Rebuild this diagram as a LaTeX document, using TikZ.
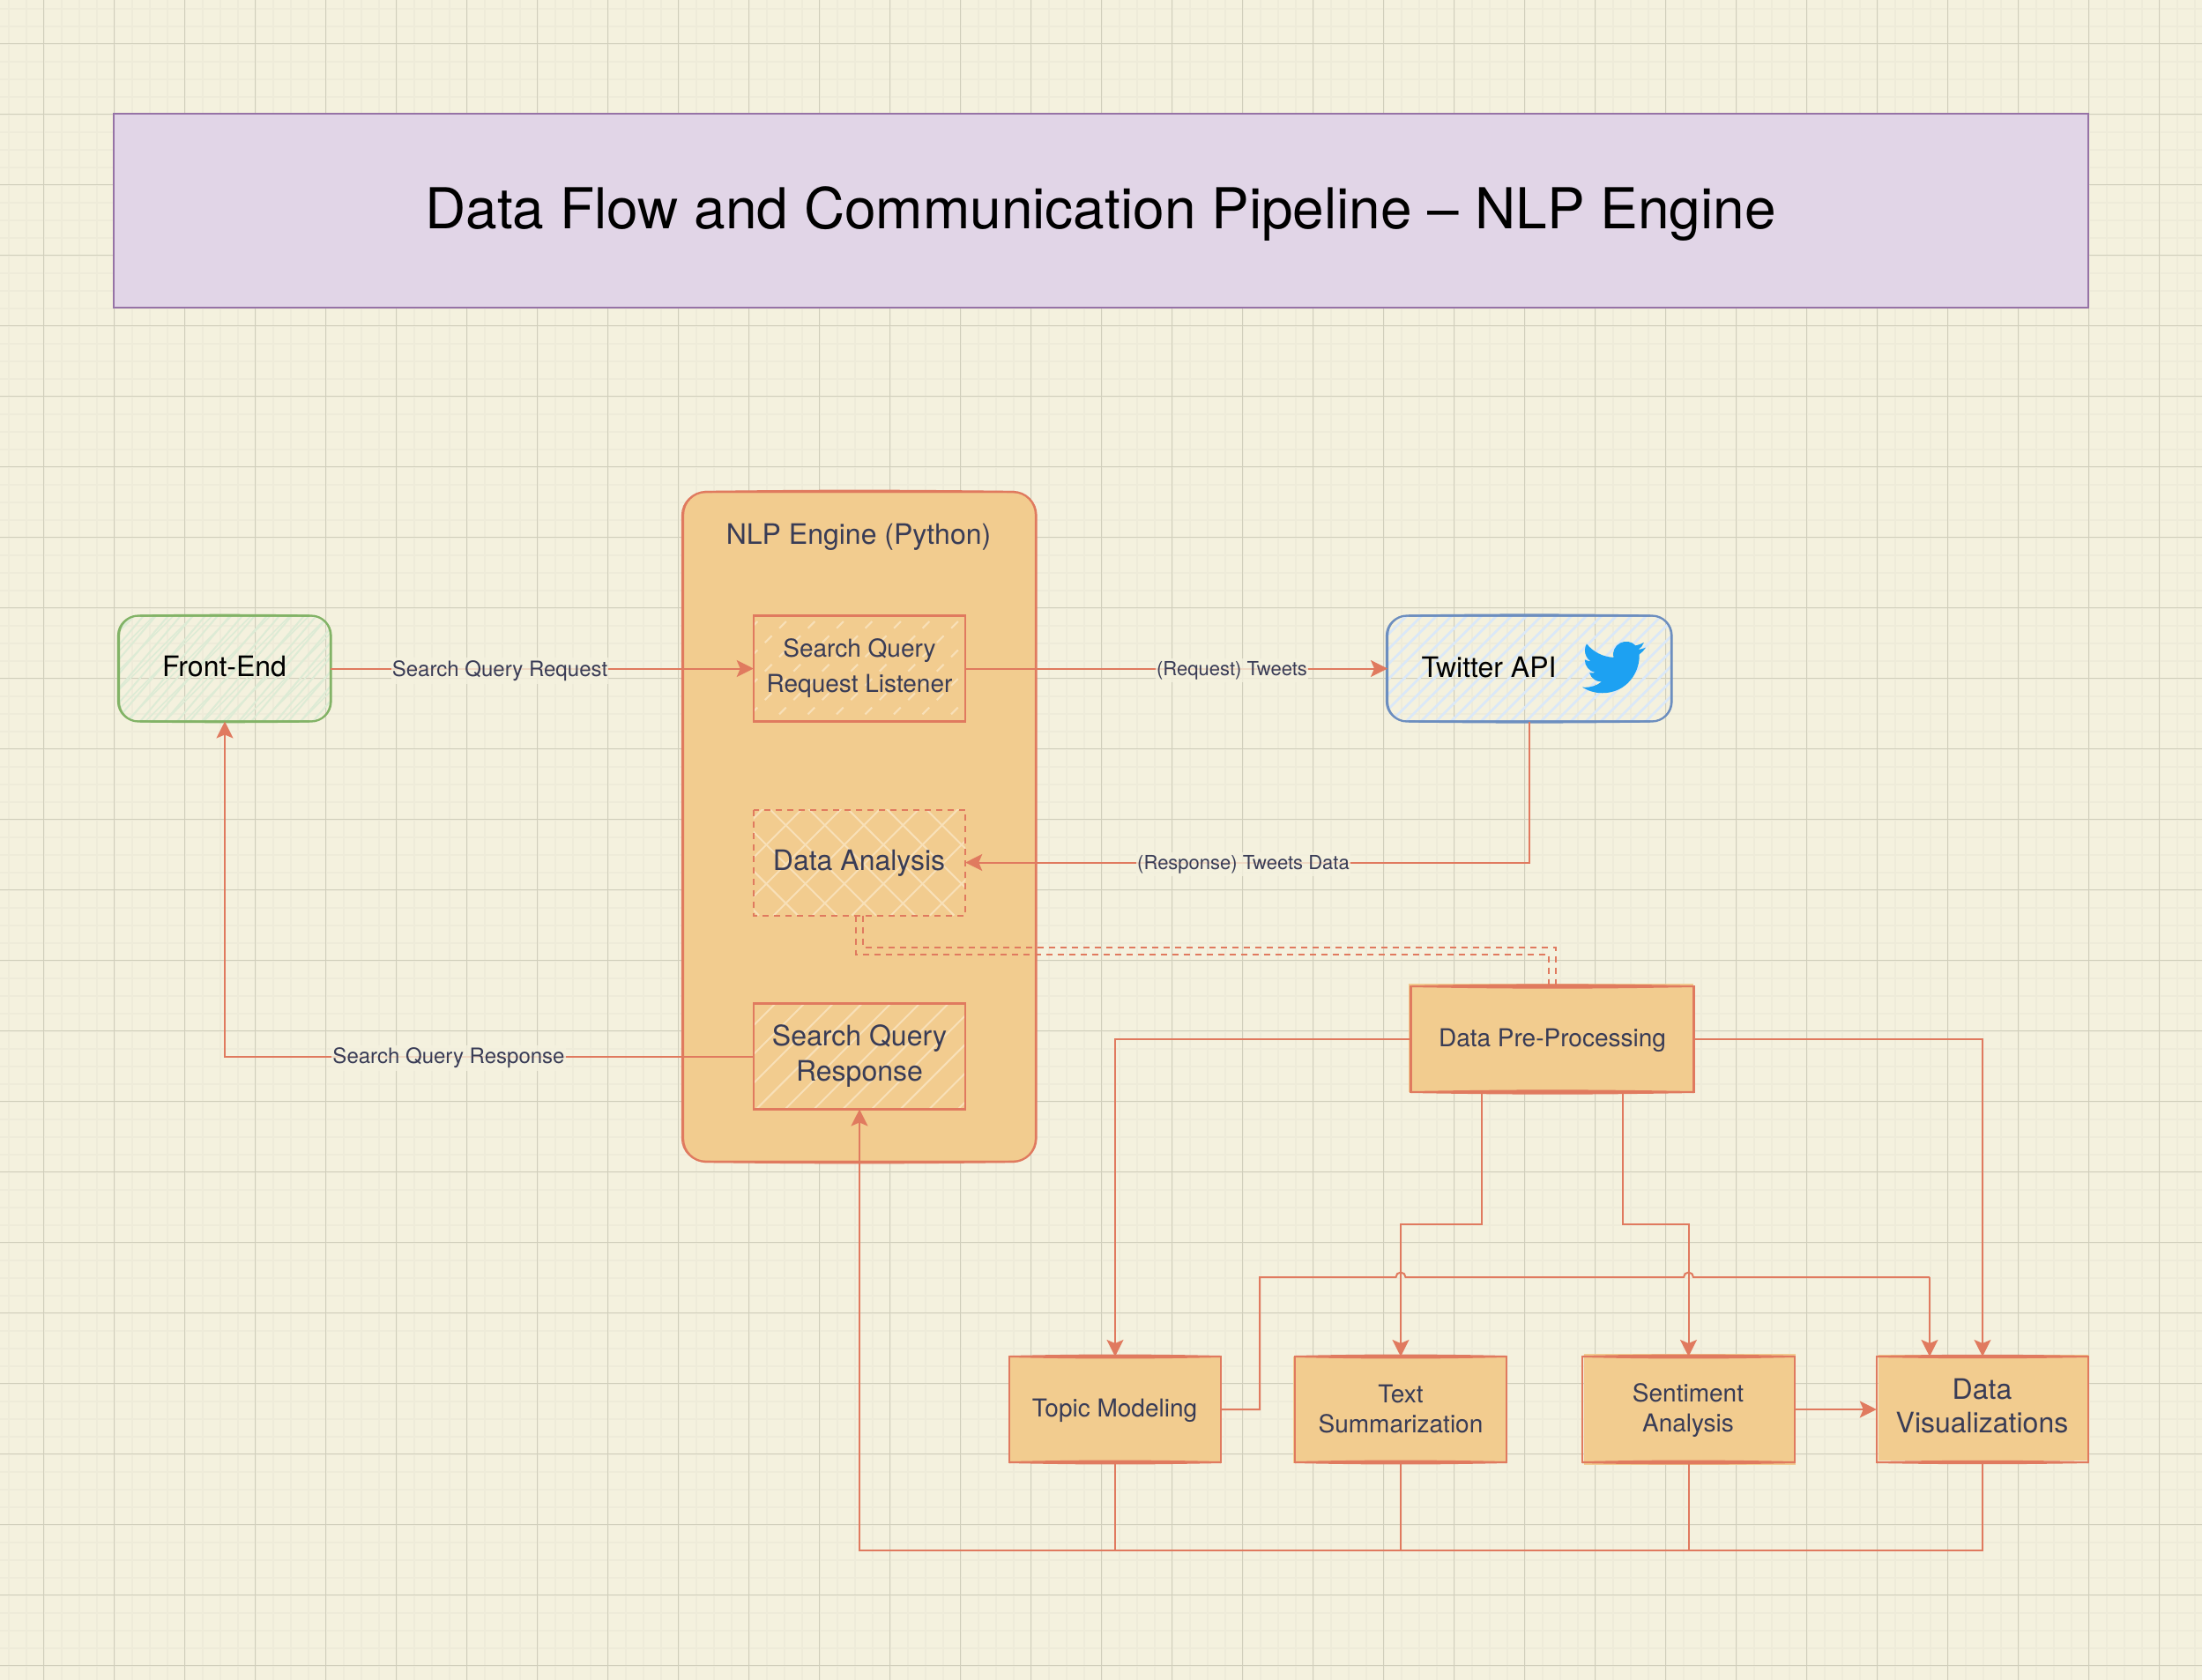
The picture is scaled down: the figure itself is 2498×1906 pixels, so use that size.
\documentclass[tikz,border=0pt]{standalone}
\usepackage{fontspec}
\setmainfont{TeX Gyre Heros}
\usetikzlibrary{arrows.meta,calc}
\definecolor{paper}{HTML}{F4F1DE}
\definecolor{gridminor}{HTML}{EEEBD9}
\definecolor{gridmajor}{HTML}{D0CEBB}
\definecolor{coral}{HTML}{E07A5F}
\definecolor{sand}{HTML}{F2CC8F}
\definecolor{ink}{HTML}{393C56}
\definecolor{hatchlight}{HTML}{F8E0B8}
\definecolor{greenline}{HTML}{82B366}
\definecolor{greenhatch}{HTML}{DDEBD5}
\definecolor{blueline}{HTML}{6C8EBF}
\definecolor{bluehatch}{HTML}{DAE8F8}
\definecolor{titlefill}{HTML}{E1D5E7}
\definecolor{titleline}{HTML}{9673A6}
\definecolor{birdblue}{HTML}{1DA1F2}
\pgfdeclarelayer{gridlayer}
\pgfdeclarelayer{fills}
\pgfsetlayers{gridlayer,fills,main}
\newcommand\hatchlines[5]{%
  \foreach \i in {0,...,#3}{%
    \pgfmathsetmacro\hoff{#1+\i*#2}%
    \draw[#5] ([xshift=\hoff pt]path picture bounding box.south west) -- ++(#4,-200);
  }}
\newcommand\overfill[5]{%
  \begin{pgfonlayer}{fills}
    \fill[sand] ([shift={(#2,#3)}]#1.north west) rectangle ([shift={(#4,#5)}]#1.south east);
  \end{pgfonlayer}}
\newcommand\roughlens[3]{%
  \draw[draw=#3,line width=2pt] (#1.north west) to[bend left=#2] (#1.north east);
  \draw[draw=#3,line width=2pt] (#1.north west) to[bend right=#2] (#1.north east);
  \draw[draw=#3,line width=2pt] (#1.south west) to[bend left=#2] (#1.south east);
  \draw[draw=#3,line width=2pt] (#1.south west) to[bend right=#2] (#1.south east);}
\newcommand\roughround[3]{%
  \draw[draw=#3,line width=1.2pt,rounded corners=#2] ([shift={(-1.5,.5)}]#1.north west) rectangle ([shift={(1,-.5)}]#1.south east);
  \draw[draw=#3,line width=2.2pt] (#1.north west) ++(24,0) to[bend left=.7] ([xshift=-24pt]#1.north east);
  \draw[draw=#3,line width=2.2pt] (#1.south west) ++(24,0) to[bend right=.7] ([xshift=-24pt]#1.south east);}
\tikzset{
  x=1pt,y=-1pt,
  basebox/.style={rectangle,inner sep=0pt,outer sep=0pt,align=center,text=ink},
  inbox/.style={basebox,draw=coral,line width=2.4pt,minimum width=240.5pt,minimum height=120pt},
  procbox/.style={basebox,draw=coral,line width=2.2pt,minimum height=120pt},
  softbox/.style={rectangle,inner sep=0pt,outer sep=0pt,align=center,text=black,line width=2.3pt,rounded corners=22pt,minimum height=120pt},
  boxtext/.style={inner sep=0pt,align=center},
  txa/.style={font=\fontsize{28}{34}\selectfont},
  txb/.style={font=\fontsize{32}{38.4}\selectfont},
  txc/.style={font=\fontsize{28}{40}\selectfont},
  txd/.style={font=\fontsize{32}{40}\selectfont},
  conn/.style={draw=coral,line width=2pt},
  arr/.style={conn,-{Stealth[length=19pt,width=19pt,inset=4pt]}},
  dashconn/.style={draw=coral,line width=2pt,dash pattern=on 7pt off 6pt},
  edgelabel/.style={inner xsep=1pt,inner ysep=3pt,fill=paper,fill opacity=.8,text opacity=1,text=ink,font=\fontsize{24}{28}\selectfont},
  edgelabelsmall/.style={edgelabel,font=\fontsize{22}{26}\selectfont},
  hatchline/.style={draw=hatchlight,line width=2pt},
}
\begin{document}
\begin{tikzpicture}
\useasboundingbox (0,0) rectangle (2498,1906);
% paper and grid
\begin{pgfonlayer}{gridlayer}
  \fill[paper] (0,0) rectangle (2498,1906);
  \foreach \u in {9.5,29.5,...,2498}{\draw[gridminor,line width=2pt] (\u,0) -- (\u,1906);}
  \foreach \u in {9.5,29.5,...,1906}{\draw[gridminor,line width=2pt] (0,\u) -- (2498,\u);}
  \foreach \u in {49.5,129.5,...,2498}{\draw[gridmajor,line width=1pt] (\u,0) -- (\u,1906);}
  \foreach \u in {49.5,129.5,...,1906}{\draw[gridmajor,line width=1pt] (0,\u) -- (2498,\u);}
\end{pgfonlayer}

% title
\node[rectangle,inner sep=0pt,outer sep=0pt,fill=titlefill,draw=titleline,line width=2pt,minimum width=2240pt,minimum height=220pt] (title) at (1248.5,239) {};
\node[boxtext,font=\fontsize{64}{76}\selectfont,text=black] (titlelabel) at (1248.5,243) {Data Flow and Communication Pipeline – NLP Engine};

% front-end and Twitter
\node[softbox,draw=greenline,minimum width=240pt,
  path picture={\hatchlines{-200}{14}{32}{170}{draw=greenhatch,line width=2pt}\hatchlines{-190}{22}{20}{200}{draw=greenhatch,line width=1.6pt}}]
  (front) at (255,758.5) {};
\roughround{front}{22pt}{greenline}
\node[boxtext,text=black,txb] (frontlabel) at (254.5,756) {Front-End};
\node[softbox,draw=blueline,minimum width=322pt,
  path picture={\hatchlines{-200}{17}{31}{200}{draw=bluehatch,line width=2.6pt}}]
  (twitter) at (1735,758.5) {};
\roughround{twitter}{22pt}{blueline}
\node[boxtext,text=black,txb] (twlabel) at (1689,757) {Twitter API};
\begin{scope}[shift={(1795,721)},x=3pt,y=3pt]
\fill[birdblue] (23.953,-4.57) .. controls (23.053,-4.94) and (22.103,-5.2) .. (21.128,-5.345)
 .. controls (22.148,-4.735) and (22.918,-3.775) .. (23.291,-2.622)
 .. controls (22.34,-3.177) and (21.286,-3.581) .. (20.164,-3.806)
 .. controls (18.637,-2.204) and (16.235,-1.818) .. (14.283,-2.86)
 .. controls (12.331,-3.902) and (11.293,-6.13) .. (11.78,-8.288)
 .. controls (7.69,-8.095) and (4.067,-6.13) .. (1.64,-3.162)
 .. controls (1.22,-3.88) and (.974,-4.72) .. (.974,-5.637)
 .. controls (.974,-7.347) and (1.844,-8.85) .. (3.162,-9.733)
 .. controls (2.362,-9.708) and (1.612,-9.483) .. (.934,-9.117)
 -- (.934,-9.177)
 .. controls (.934,-11.567) and (2.624,-13.547) .. (4.88,-14.004)
 .. controls (4.16,-14.194) and (3.4,-14.224) .. (2.668,-14.089)
 .. controls (3.308,-16.079) and (5.158,-17.459) .. (7.272,-17.506)
 .. controls (5.532,-18.876) and (3.382,-19.616) .. (1.17,-19.611)
 .. controls (.78,-19.611) and (.391,-19.588) .. (0,-19.544)
 .. controls (2.25,-20.984) and (4.87,-21.754) .. (7.557,-21.753)
 .. controls (16.61,-21.753) and (21.555,-14.257) .. (21.555,-7.768)
 .. controls (21.555,-7.558) and (21.555,-7.348) .. (21.54,-7.138)
 .. controls (22.5,-6.438) and (23.33,-5.588) .. (24,-4.59) -- cycle;
\end{scope}

% NLP engine container
\node[rectangle,inner sep=0pt,outer sep=0pt,fill=sand,draw=coral,line width=2.3pt,rounded corners=26pt,minimum width=400pt,minimum height=760pt] (nlp) at (975,938) {};
\roughround{nlp}{26pt}{coral}
\node[boxtext,text=ink,font=\fontsize{32}{38}\selectfont] (nlplabel) at (974,609) {NLP Engine (Python)};

\node[inbox,txc,path picture={\hatchlines{-173.9}{32.5}{13}{200}{hatchline,dash pattern=on 11pt off 12pt,dash phase=11.5pt}}] (listener) at (975,758.5) {Search Query\\Request Listener};
\node[basebox,minimum width=240.5pt,minimum height=120pt,
  path picture={\hatchlines{-198.5}{44.3}{10}{200}{hatchline}\hatchlines{6.1}{44.3}{10}{-200}{hatchline}}] (analysis) at (975,978.5) {};
\draw[dashconn] (analysis.north west) rectangle (analysis.south east);
\node[boxtext,text=ink,txb] (analysislabel) at (974.5,979.5) {Data Analysis};
\node[inbox,txd,path picture={\hatchlines{-193.1}{32.7}{14}{200}{hatchline}}] (response) at (975,1198.5) {Search Query\\Response};

% processing boxes
\node[procbox,minimum width=321pt] (pre) at (1761,1179) {};
\overfill{pre}{-3}{-3}{-1}{0}
\roughlens{pre}{1}{coral}
\node[boxtext,text=ink,txa] (prelabel) at (1761,1180.5) {Data Pre-Processing};
\node[procbox,minimum width=240pt] (topic) at (1265,1599) {};
\overfill{topic}{0}{-1}{-1}{1}
\roughlens{topic}{1.2}{coral}
\node[boxtext,text=ink,txa] (topiclabel) at (1264.5,1600.5) {Topic Modeling};
\node[procbox,txa,minimum width=240pt] (summary) at (1589,1599) {Text\\Summarization};
\overfill{summary}{-2}{0}{0}{1}
\roughlens{summary}{1.2}{coral}
\node[procbox,minimum width=241pt] (sentiment) at (1915.5,1599) {};
\overfill{sentiment}{2}{-3}{1}{3}
\roughlens{sentiment}{1.2}{coral}
\node[boxtext,text=ink,txa] (sentlabel) at (1915,1600) {Sentiment\\Analysis};
\node[procbox,minimum width=240.5pt] (viz) at (2249,1599) {};
\overfill{viz}{2}{-2}{0}{-2}
\roughlens{viz}{1}{coral}
\node[boxtext,text=ink,txb] (vizlabel) at (2248.5,1595) {Data\\Visualizations};

% routing levels
\coordinate (busLevel) at (0,1759);
\coordinate (splitLevel) at (0,1389);
\coordinate (crossLevel) at (0,1449);
\coordinate (crossCorner) at (1429,1449);
\coordinate (outerDash) at (0,1083);
\coordinate (innerDash) at (0,1075);
\coordinate (preLeft) at ([xshift=-80pt]pre.south);
\coordinate (preRight) at ([xshift=80pt]pre.south);
\coordinate (vizEntry) at ([xshift=-60pt]viz.north);

% connectors
\draw[arr] (front.east) -- (listener.west);
\draw[arr] (listener.east) -- (twitter.west);
\draw[arr] (twitter.south) |- (analysis.east);
\draw[arr] (response.west) -| (front.south);
\draw[dashconn] ([xshift=-4pt]analysis.south) -- ([xshift=-4pt]analysis.south |- outerDash) -- ([xshift=-4pt]pre.north |- outerDash) -- ([xshift=-4pt]pre.north);
\draw[dashconn] ([xshift=4pt]analysis.south) -- ([xshift=4pt]analysis.south |- innerDash) -- ([xshift=4pt]pre.north |- innerDash) -- ([xshift=4pt]pre.north);
\draw[arr] (pre.west) -| (topic.north);
\draw[arr] (pre.east) -| (viz.north);
\draw[arr] (preLeft) -- (preLeft |- splitLevel) -| (summary.north);
\draw[arr] (preRight) -- (preRight |- splitLevel) -| (sentiment.north);
\draw[conn] (topic.east) -| (crossCorner)
  -- ([xshift=-5.5pt]summary.north |- crossLevel) arc[start angle=180,end angle=360,radius=5.5]
  -- ([xshift=-5.5pt]sentiment.north |- crossLevel) arc[start angle=180,end angle=360,radius=5.5]
  -- (vizEntry |- crossLevel);
\draw[arr] (vizEntry |- crossLevel) -- (vizEntry);
\draw[arr] (sentiment.east) -- (viz.west);
\draw[arr] (viz.south) -- (viz.south |- busLevel) -| (response.south);
\draw[conn] (topic.south) -- (topic.south |- busLevel);
\draw[conn] (summary.south) -- (summary.south |- busLevel);
\draw[conn] (sentiment.south) -- (sentiment.south |- busLevel);

% connector labels
\node[edgelabel] (lblquery) at (567,761) {Search Query Request};
\node[edgelabelsmall] (lbltweets) at (1397.5,760.5) {(Request) Tweets};
\node[edgelabelsmall] (lbldata) at (1410.5,980.5) {(Response) Tweets Data};
\node[edgelabel] (lblresp) at (509,1200.5) {Search Query Response};
\end{tikzpicture}
\end{document}
